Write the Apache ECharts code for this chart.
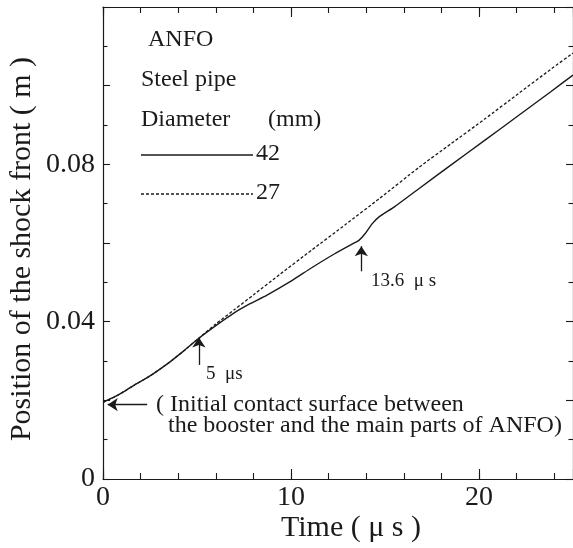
<!DOCTYPE html>
<html>
<head>
<meta charset="utf-8">
<script src="https://cdn.jsdelivr.net/npm/echarts@6/dist/echarts.min.js"></script>
<style>
html,body{margin:0;padding:0;background:#fff;}
#c{width:573px;height:548px;}
</style>
</head>
<body>
<div id="c"></div>
<script>
// ---- data ----
const timeSolid = [0,0.5,1,1.6,2.5,3.4,4.2,5.1,6,6.9,7.8,8.7,10,11.1,12.3,13.4,13.6,13.95,14.3,14.7,15.5,16.8,18.5,20.3,22.1,23.8,25];
const pos42 = [0.0195,0.0206,0.0219,0.0237,0.0262,0.0292,0.0322,0.0358,0.039,0.042,0.0445,0.0467,0.0503,0.0537,0.0572,0.0601,0.0606,0.0624,0.0648,0.0667,0.0692,0.0738,0.0798,0.0861,0.0924,0.0984,0.1027];
const timeDashed = [0,0.5,1,1.6,2.5,3.4,4.2,5.1,6,7,8,9.4,11.1,12.9,14.7,16.8,18.5,20.3,22.1,23.8,25];
const pos27 = [0.0195,0.0206,0.0219,0.0237,0.0262,0.0292,0.0322,0.0358,0.0394,0.0431,0.0468,0.0520,0.0582,0.0647,0.0713,0.0792,0.0852,0.0915,0.0980,0.1041,0.1083];
const xTickLabels = [0,10,20];
const yTickLabels = ['0','0.04','0.08'];
const legendLabels = ['42','27'];

const FONT = '"Liberation Serif", "Times New Roman", serif';
const INK = '#1a1a1a';

const chart = echarts.init(document.getElementById('c'), null, {renderer:'canvas'});

function xAx(pos, interval, len, showLine, showLabel){
  return {
    type:'value', min:0, max:25, interval:interval, position:pos,
    axisLine:{show:showLine, onZero:false, lineStyle:{color:INK, width:1.2}},
    axisTick:{show:true, inside:true, length:len, lineStyle:{color:INK, width:1.1}},
    axisLabel:{show:showLabel, margin:5, fontFamily:FONT, fontSize:28, color:INK, showMaxLabel:false,
      formatter:function(v){ const r=Math.round(v); return xTickLabels.indexOf(r)>=0 && Math.abs(v-r)<1e-6 ? String(r) : ''; }},
    splitLine:{show:false}
  };
}
function yAx(pos, showLabel){
  return {
    type:'value', min:0, max:0.12, interval:0.02, position:pos,
    axisLine:{show:true, onZero:false, lineStyle:{color:INK, width:1.2}},
    axisTick:{show:true, inside:true, length:7, lineStyle:{color:INK, width:1.1}},
    minorTick:{show:true, splitNumber:2, length:4.5, lineStyle:{color:INK, width:1.1}},
    axisLabel:{show:showLabel, margin:8, fontFamily:FONT, fontSize:28, color:INK, showMaxLabel:false,
      formatter:function(v){ const r=Math.round(v*100); const s = r===0 ? '0' : (r/100).toFixed(2); return yTickLabels.indexOf(s)>=0 ? s : ''; }},
    splitLine:{show:false}
  };
}

const arrowStyle = {color:INK, width:1.3, type:'solid'};

const option = {
  animation:false,
  backgroundColor:'#fff',
  grid:{left:103, right:-2, top:7, bottom:69, containLabel:false},
  xAxis:[
    xAx('bottom',2,6,true,true),
    xAx('bottom',10,10,false,false),
    xAx('top',2,6,true,false),
    xAx('top',10,10,false,false)
  ],
  yAxis:[ yAx('left',true), yAx('right',false) ],
  series:[
    {
      type:'line', xAxisIndex:0, yAxisIndex:0, showSymbol:false, smooth:0.2, clip:true,
      data: timeSolid.map((t,i)=>[t,pos42[i]]),
      lineStyle:{color:INK, width:1.4, type:'solid'},
      markLine:{
        silent:true, symbol:['none','arrow'], symbolSize:10, animation:false,
        label:{show:false}, lineStyle:arrowStyle,
        data:[
          [{coord:[5.1,0.0290]},{coord:[5.1,0.0360]}],
          [{coord:[13.74,0.0528]},{coord:[13.74,0.0592]}],
          [{coord:[2.35,0.0189]},{coord:[0.25,0.0189]}]
        ]
      }
    },
    {
      type:'line', xAxisIndex:0, yAxisIndex:0, showSymbol:false, smooth:0.2, clip:true,
      data: timeDashed.map((t,i)=>[t,pos27[i]]),
      lineStyle:{color:INK, width:1.3, type:[3,2]}
    }
  ],
  graphic:[
    {type:'text', x:22, y:249, rotation:Math.PI/2,
      style:{text:'Position of the shock front ( m )', font:'30px '+FONT, fill:INK, align:'center', verticalAlign:'middle', textAlign:'center', textVerticalAlign:'middle'}},
    {type:'text', x:351, y:528,
      style:{text:'Time ( \u03bc s )', font:'30px '+FONT, fill:INK, align:'center', verticalAlign:'middle', textAlign:'center', textVerticalAlign:'middle'}},
    {type:'text', x:148, y:40, style:{text:'ANFO', font:'24px '+FONT, fill:INK, verticalAlign:'middle', textVerticalAlign:'middle'}},
    {type:'text', x:141, y:80, style:{text:'Steel pipe', font:'24px '+FONT, fill:INK, verticalAlign:'middle', textVerticalAlign:'middle'}},
    {type:'text', x:141, y:120, style:{text:'Diameter', font:'24px '+FONT, fill:INK, verticalAlign:'middle', textVerticalAlign:'middle'}},
    {type:'text', x:268, y:120, style:{text:'(mm)', font:'24px '+FONT, fill:INK, verticalAlign:'middle', textVerticalAlign:'middle'}},
    {type:'line', shape:{x1:141, y1:155, x2:253, y2:155}, style:{stroke:INK, lineWidth:1.4}},
    {type:'text', x:256, y:154, style:{text:legendLabels[0], font:'24px '+FONT, fill:INK, verticalAlign:'middle', textVerticalAlign:'middle'}},
    {type:'line', shape:{x1:141, y1:194, x2:253, y2:194}, style:{stroke:INK, lineWidth:1.3, lineDash:[3,2]}},
    {type:'text', x:256, y:193, style:{text:legendLabels[1], font:'24px '+FONT, fill:INK, verticalAlign:'middle', textVerticalAlign:'middle'}},
    {type:'text', x:206, y:374, style:{text:'5  \u03bcs', font:'19px '+FONT, fill:INK, verticalAlign:'middle', textVerticalAlign:'middle'}},
    {type:'text', x:371, y:281, style:{text:'13.6  \u03bc s', font:'19px '+FONT, fill:INK, verticalAlign:'middle', textVerticalAlign:'middle'}},
    {type:'text', x:156, y:405, style:{text:'( Initial contact surface between', font:'24px '+FONT, fill:INK, verticalAlign:'middle', textVerticalAlign:'middle'}},
    {type:'text', x:168, y:426, style:{text:'the booster and the main parts of ANFO)', font:'24px '+FONT, fill:INK, verticalAlign:'middle', textVerticalAlign:'middle'}}
  ]
};
chart.setOption(option);
</script>
</body>
</html>
